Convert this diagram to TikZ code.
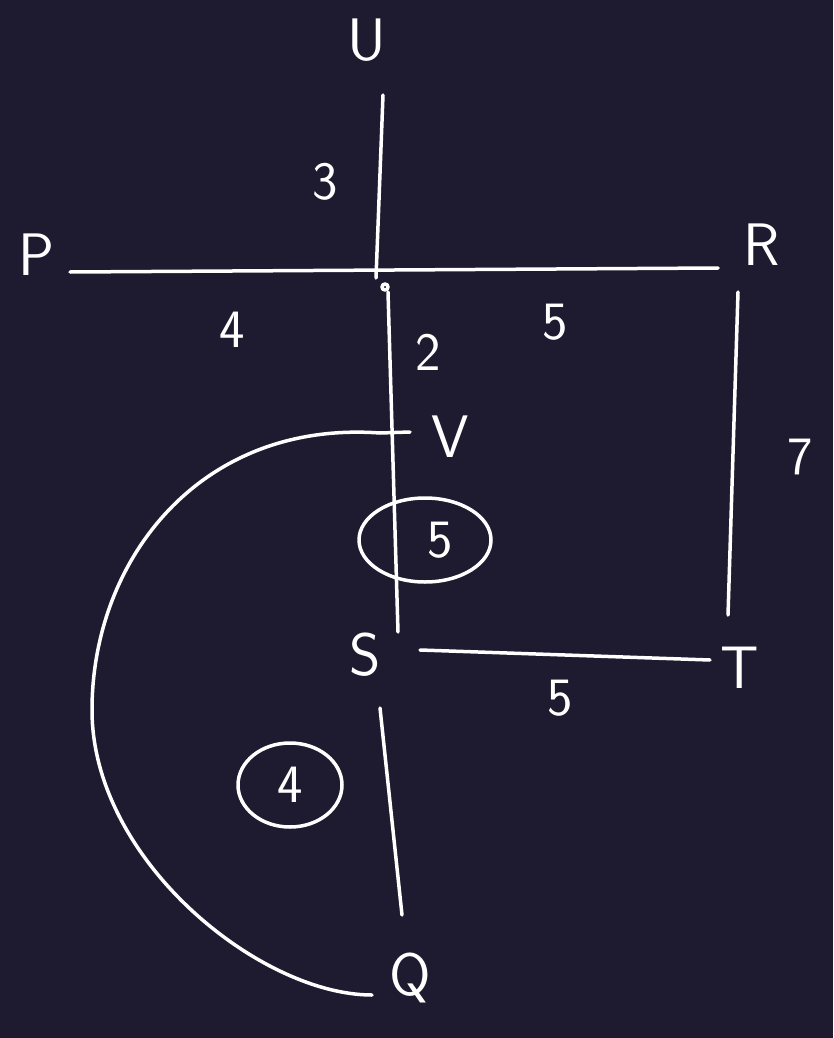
\documentclass[tikz,border=0pt]{standalone}
\usepackage{fontspec}
\setmainfont{DejaVu Sans}
\definecolor{bg}{HTML}{1E1A2F}
\tikzset{
  ln/.style={draw=white,line width=3.5pt,line cap=round,line join=round},
  lbl/.style={text=white,font=\fontsize{60}{62}\selectfont\sffamily,inner sep=0pt},
  num/.style={text=white,font=\fontsize{54}{56}\selectfont\sffamily,inner sep=0pt},
}
\begin{document}
\begin{tikzpicture}[x=1pt,y=-1pt]
\fill[bg] (0,0) rectangle (833,1038);
\useasboundingbox (0,0) rectangle (833,1038);
% labels
\node[lbl] (U) at (367,40) {U};
\node[lbl] (P) at (36,255) {P};
\node[lbl] (R) at (762,245) {R};
\node[lbl] (V) at (450,437) {V};
\node[lbl] (S) at (365,655) {S};
\node[lbl] (T) at (740,668) {T};
\node[lbl] (Q) at (410,978) {Q};
% numbers
\node[num] (n3) at (325,182) {3};
\node[num] (n4a) at (232,330) {4};
\node[num] (n5a) at (555,322) {5};
\node[num] (n2) at (428,352) {2};
\node[num] (n7) at (800,457) {7};
\node[num] (n5b) at (440,540) {5};
\node[num] (n5c) at (560,698) {5};
\node[num] (n4b) at (290,785) {4};
\draw[ln] (425,540) ellipse [x radius=66,y radius=42];
\draw[ln] (n4b) ellipse [x radius=52,y radius=42];
% coordinates
\coordinate (Ua) at (383,95);
\coordinate (C) at (376,278);
\coordinate (Pa) at (70,272);
\coordinate (Ra) at (718,268);
\coordinate (Vt) at (388,292);
\coordinate (Sb) at (398,632);
\coordinate (Rb) at (738,292);
\coordinate (Tb) at (728,615);
\coordinate (Sr) at (420,650);
\coordinate (Tl) at (710,660);
\coordinate (Sd) at (380,708);
\coordinate (Qu) at (402,915);
\coordinate (Vl) at (410,432);
\coordinate (Ql) at (372,995);
% lines
\draw[ln] (Ua) -- (C);
\draw[ln] (Pa) -- (Ra);
\draw[ln] (385,287) circle (3);
\draw[ln] (Vt) -- (Sb);
\draw[ln] (Rb) -- (Tb);
\draw[ln] (Sr) -- (Tl);
\draw[ln] (Sd) -- (Qu);
\draw[ln] (Vl) -- (380,433) .. controls (200,420) and (92,560) .. (92,710)
   .. controls (92,860) and (260,995) .. (Ql);
\end{tikzpicture}
\end{document}
